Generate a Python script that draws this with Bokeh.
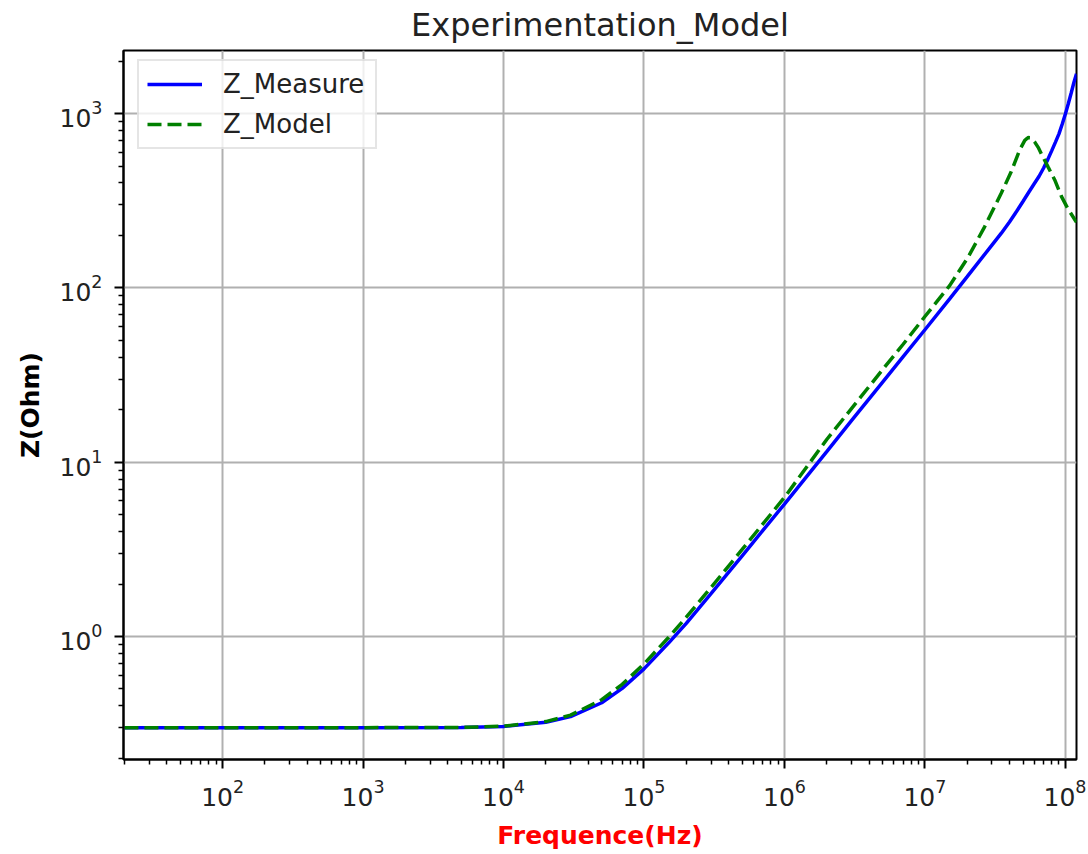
from bokeh.plotting import figure
from bokeh.models import Range1d, FixedTicker, LogTickFormatter
from bokeh.embed import file_html
from bokeh.resources import INLINE

# ---- data ----
freq_measure = [20, 100, 1000, 5000, 1e4, 2e4, 3e4, 5e4, 7e4, 1e5, 1.5e5, 2e5, 3e5, 5e5, 7e5,
                1e6, 2e6, 3e6, 5e6, 7e6, 1e7, 1.5e7, 2e7, 3e7, 3.5e7, 4e7, 4.5e7, 5e7, 5.5e7,
                6e7, 6.5e7, 7e7, 7.5e7, 8e7, 8.5e7, 9e7, 9.5e7, 1e8, 1.05e8, 1.1e8, 1.15e8, 1.2e8]
z_measure = [0.3, 0.3, 0.3, 0.301, 0.305, 0.322, 0.347, 0.417, 0.504, 0.652, 0.92, 1.19, 1.76,
             2.9, 4.05, 5.75, 11.5, 17.3, 28.8, 40.3, 57.5, 86.5, 116, 176, 206, 239, 275, 314,
             355, 396, 437, 487, 546, 613, 686, 765, 871, 995, 1141, 1312, 1506, 1690]

freq_model = [20, 100, 1000, 5000, 1e4, 2e4, 3e4, 5e4, 7e4, 1e5, 1.5e5, 2e5, 3e5, 5e5, 7e5,
              1e6, 2e6, 3e6, 5e6, 7e6, 1e7, 1.5e7, 2.03e7, 2.66e7, 3.5e7, 4.12e7, 4.72e7,
              5.13e7, 5.3e7, 5.45e7, 5.6e7, 5.75e7, 6.04e7, 6.4e7, 6.75e7, 7.54e7, 8.4e7,
              9.37e7, 1.045e8, 1.2e8]
z_model = [0.3, 0.3, 0.3, 0.301, 0.306, 0.325, 0.354, 0.434, 0.532, 0.696, 0.99, 1.29, 1.91,
           3.16, 4.41, 6.28, 13.5, 20.3, 34, 47.5, 68.5, 103, 150, 224, 350, 465, 617,
           700, 718, 728, 727, 720, 688, 640, 587, 493, 416, 335, 283, 238]

x_major_ticks = [1e2, 1e3, 1e4, 1e5, 1e6, 1e7, 1e8]
y_major_ticks = [1e0, 1e1, 1e2, 1e3]
series_labels = ["Z_Measure", "Z_Model"]
title_text = "Experimentation_Model"
x_label = "Frequence(Hz)"
y_label = "Z(Ohm)"

FONT = "DejaVu Sans"
x_lo, x_hi = 19.7, 1.2e8
y_lo, y_hi = 0.197, 2300
FW, FH = 953, 709

p = figure(x_axis_type="log", y_axis_type="log",
           x_range=Range1d(x_lo, x_hi), y_range=Range1d(y_lo, y_hi),
           frame_width=FW, frame_height=FH,
           min_border_left=123, min_border_right=10, min_border_top=50, min_border_bottom=93,
           output_backend="svg", toolbar_location=None, title=title_text)

p.background_fill_color = "white"
p.border_fill_color = "white"
p.outline_line_color = "black"
p.outline_line_width = 2

# title
p.title.text_font = FONT
p.title.text_font_size = "32px"
p.title.text_font_style = "normal"
p.title.align = "center"
p.title.text_color = "#222222"
p.title.vertical_align = "top"
p.title.standoff = 10

# ticks
x_minor = [m * 10 ** e for e in range(1, 9) for m in range(2, 10) if x_lo <= m * 10 ** e <= x_hi]
y_minor = [m * 10 ** e for e in range(-1, 4) for m in range(2, 10) if y_lo <= m * 10 ** e <= y_hi]
p.xaxis[0].ticker = FixedTicker(ticks=x_major_ticks, minor_ticks=x_minor)
p.yaxis[0].ticker = FixedTicker(ticks=y_major_ticks, minor_ticks=y_minor)
p.xaxis[0].formatter = LogTickFormatter()
p.yaxis[0].formatter = LogTickFormatter()

for ax in (p.xaxis[0], p.yaxis[0]):
    ax.axis_line_color = "black"
    ax.axis_line_width = 2
    ax.major_tick_line_color = "black"
    ax.major_tick_line_width = 2
    ax.major_tick_out = 9
    ax.major_tick_in = 0
    ax.minor_tick_line_color = "black"
    ax.minor_tick_line_width = 1.5
    ax.minor_tick_out = 5
    ax.minor_tick_in = 0
    ax.major_label_text_font = FONT
    ax.major_label_text_font_size = "25px"
    ax.major_label_text_color = "#222222"
    ax.axis_label_text_font = FONT
    ax.axis_label_text_font_size = "25px"
    ax.axis_label_text_font_style = "bold"

p.xaxis[0].axis_label = x_label
p.xaxis[0].axis_label_text_color = "red"
p.xaxis[0].major_label_standoff = 10
p.xaxis[0].axis_label_standoff = 12
p.yaxis[0].axis_label = y_label
p.yaxis[0].axis_label_text_color = "black"
p.yaxis[0].major_label_standoff = 12
p.yaxis[0].axis_label_standoff = 12

# grid
for g in (p.xgrid[0], p.ygrid[0]):
    g.grid_line_color = "#b0b0b0"
    g.grid_line_width = 2
p.xgrid[0].ticker = p.xaxis[0].ticker
p.ygrid[0].ticker = p.yaxis[0].ticker

# lines
p.line(freq_measure, z_measure, line_color="#0000ff", line_width=3.5, legend_label=series_labels[0])
p.line(freq_model, z_model, line_color="#008000", line_width=3.5, line_dash="14 6",
       legend_label=series_labels[1])

lg = p.legend[0]
LEG_H = 87
lg.location = (14, FH - 12 - LEG_H)
lg.padding = 8
lg.spacing = 10
lg.label_height = 30
lg.label_width = 144
lg.glyph_height = 30
lg.glyph_width = 55
lg.label_standoff = 21
lg.label_text_font = FONT
lg.label_text_font_size = "26px"
lg.label_text_color = "#222222"
lg.border_line_color = "#cccccc"
lg.border_line_width = 2
lg.background_fill_color = "white"
lg.background_fill_alpha = 0.8

open("out.html", "w").write(file_html(p, INLINE))
